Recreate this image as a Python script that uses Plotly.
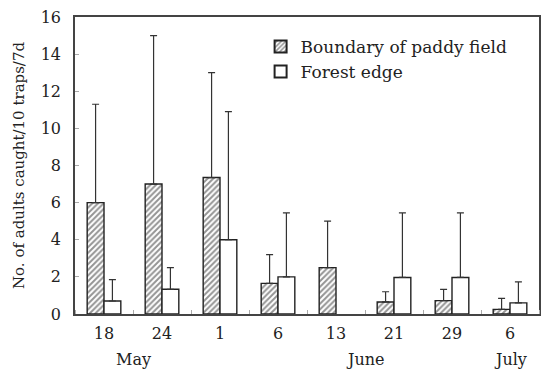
import plotly.graph_objects as go

dates = ["18", "24", "1", "6", "13", "21", "29", "6"]
months = ["May", "June", "July"]
month_pos = [0.5, 4.5, 7]

paddy_mean = [6.0, 7.0, 7.35, 1.65, 2.5, 0.65, 0.72, 0.25]
paddy_upper = [11.3, 15.0, 13.0, 3.2, 5.0, 1.2, 1.33, 0.84]
forest_mean = [0.7, 1.33, 4.0, 2.0, None, 1.97, 1.97, 0.6]
forest_upper = [1.85, 2.5, 10.9, 5.45, None, 5.45, 5.45, 1.73]

x = list(range(len(dates)))
FONT = "DejaVu Serif"


def err(mean, upper):
    return [None if m is None else u - m for m, u in zip(mean, upper)]


fig = go.Figure()
fig.add_trace(go.Bar(
    x=x, y=paddy_mean, name="Boundary of paddy field",
    marker=dict(color="white", line=dict(color="#222", width=1.4),
                pattern=dict(shape="/", fgcolor="#2a2a2a", bgcolor="white", size=4, solidity=0.5)),
    error_y=dict(type="data", symmetric=False, array=err(paddy_mean, paddy_upper),
                 arrayminus=[0] * len(x), color="#333", thickness=1.2, width=3.5),
))
fig.add_trace(go.Bar(
    x=x, y=forest_mean, name="Forest edge",
    marker=dict(color="white", line=dict(color="#222", width=1.4)),
    error_y=dict(type="data", symmetric=False, array=err(forest_mean, forest_upper),
                 arrayminus=[0] * len(x), color="#333", thickness=1.2, width=3.5),
))

for m, p in zip(months, month_pos):
    fig.add_annotation(x=p, y=0, xref="x", yref="paper", yshift=-45, yanchor="middle", text=m,
                       showarrow=False, font=dict(family=FONT, size=16, color="#222"))

fig.update_layout(
    width=549, height=371,
    margin=dict(l=75, r=8, t=14, b=57),
    paper_bgcolor="white", plot_bgcolor="white",
    barmode="group", bargap=0.42, bargroupgap=0,
    font=dict(family=FONT, size=16, color="#222"),
    showlegend=True,
    legend=dict(x=0.40, y=0.96, xanchor="left", yanchor="top",
                bgcolor="rgba(0,0,0,0)", font=dict(family=FONT, size=17, color="#222"),
                itemsizing="constant", tracegroupgap=0),
    xaxis=dict(range=[-0.5, 7.5], tickmode="array", tickvals=x, ticktext=dates,
               ticks="", showline=True, linecolor="#444", linewidth=1.5, mirror=True,
               showgrid=False, zeroline=False, tickfont=dict(size=16), ticklabelstandoff=4,
               minor=dict(ticks="inside", tick0=0.5, dtick=1, ticklen=4, tickcolor="#aaa", tickwidth=1)),
    yaxis=dict(range=[0, 16], dtick=2, ticks="inside", ticklen=4, tickcolor="#aaa",
               showline=True, linecolor="#444", linewidth=1.5, mirror=True,
               showgrid=False, zeroline=False, tickfont=dict(size=16), ticklabelstandoff=9,
               title=dict(text="No. of adults caught/10 traps/7d", standoff=12,
                          font=dict(family=FONT, size=15, color="#222"))),
)

fig.write_html("out.html", config={"displayModeBar": False},
               post_script="document.body.style.margin='0';")
